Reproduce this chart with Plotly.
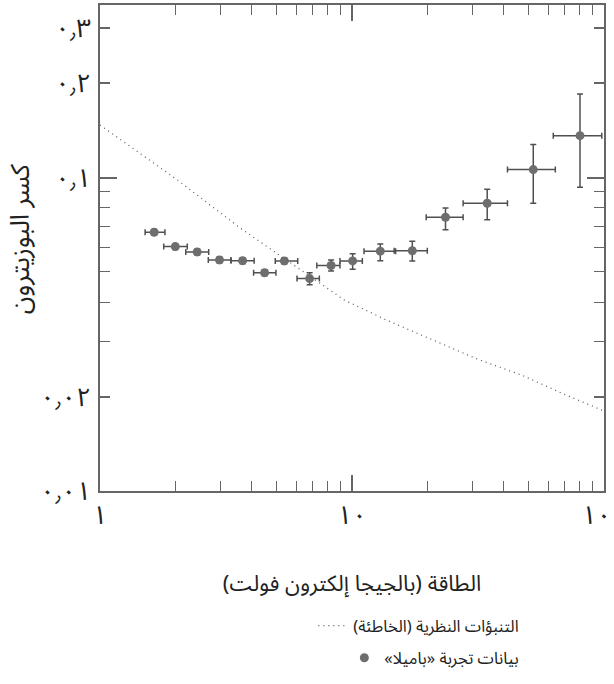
import numpy as np
import plotly.graph_objects as go

# PAMELA positron fraction data
energy = [1.64, 1.99, 2.43, 2.98, 3.68, 4.50, 5.39, 6.79, 8.26, 10.06, 12.95, 17.35, 23.5, 34.4, 52.4, 80.3]
energy_lo = [1.51, 1.79, 2.19, 2.69, 3.31, 4.07, 4.96, 6.05, 7.25, 8.96, 11.16, 14.7, 19.7, 27.6, 41.4, 62.9]
energy_hi = [1.81, 2.22, 2.70, 3.31, 4.09, 4.99, 6.09, 7.42, 8.96, 10.99, 14.9, 19.9, 27.6, 41.4, 64.1, 98.0]
fraction = [0.0669, 0.0602, 0.0579, 0.0546, 0.0543, 0.0497, 0.0542, 0.0476, 0.0524, 0.0542,
            0.0582, 0.0584, 0.0747, 0.0828, 0.106, 0.136]
fraction_lo = [0.0655, 0.0589, 0.0566, 0.0534, 0.0531, 0.0486, 0.0530, 0.0455, 0.0503, 0.0510,
               0.0543, 0.0542, 0.0681, 0.0733, 0.0828, 0.0931]
fraction_hi = [0.0683, 0.0615, 0.0592, 0.0558, 0.0555, 0.0508, 0.0554, 0.0497, 0.0546, 0.0571,
               0.0614, 0.0626, 0.0800, 0.0918, 0.1274, 0.1845]

# theoretical (wrong) prediction
theory_x = [1, 2.02, 3.59, 6, 9.3, 13.7, 20, 31.6, 47.3, 70, 100]
theory_y = [0.147, 0.0985, 0.0691, 0.052, 0.0407, 0.0351, 0.0308, 0.0263, 0.0234, 0.0203, 0.0180]

x_ticks = [1, 10, 100]
x_ticktext = ["١", "١٠", "١٠٠"]
y_major = [0.01, 0.1]
y_major_text = ["٠٫٠١", "٠٫١"]
y_other = [0.02, 0.2, 0.3]
y_other_text = ["٠٫٠٢", "٠٫٢", "٠٫٣"]

RLM = "\u200f"
name_theory = RLM + "التنبؤات النظرية (الخاطئة)" + RLM
name_data = RLM + "بيانات تجربة «باميلا»" + RLM
x_title = RLM + "الطاقة (بالجيجا إلكترون فولت)" + RLM
y_title = RLM + "كسر البوزيترون" + RLM

FONT = "Noto Sans Arabic, Noto Naskh Arabic, DejaVu Sans, sans-serif"
AXIS_COL = "#666666"

e = np.array(energy)
f = np.array(fraction)

fig = go.Figure()
fig.add_trace(go.Scatter(
    x=theory_x, y=theory_y, mode="lines", name=name_theory,
    line=dict(color="#555555", width=1.2, dash="1px,4px"),
    xaxis="x", yaxis="y2", legend="legend", showlegend=True,
))
fig.add_trace(go.Scatter(
    x=energy, y=fraction, mode="markers", name=name_data,
    marker=dict(color="#6e6e6e", size=9),
    error_x=dict(type="data", symmetric=False,
                 array=list(np.array(energy_hi) - e), arrayminus=list(e - np.array(energy_lo)),
                 color="#505050", thickness=1.5, width=3),
    error_y=dict(type="data", symmetric=False,
                 array=list(np.array(fraction_hi) - f), arrayminus=list(f - np.array(fraction_lo)),
                 color="#505050", thickness=1.5, width=3),
    legend="legend2", showlegend=True,
))

y_range = [-2, np.log10(0.355)]

fig.update_layout(
    width=614, height=684,
    margin=dict(l=100, r=10, t=5, b=193, autoexpand=False),
    showlegend=True,
    plot_bgcolor="white", paper_bgcolor="white",
    font=dict(family=FONT, size=17, color="#222222"),
    xaxis=dict(
        type="log", range=[0, 2], automargin=False,
        tickvals=x_ticks, ticktext=x_ticktext, ticklabeloverflow="allow",
        ticks="inside", ticklen=16, tickwidth=1.5, tickcolor=AXIS_COL,
        minor=dict(tickvals=[2, 3, 4, 5, 6, 7, 8, 9, 20, 30, 40, 50, 60, 70, 80, 90],
                   ticks="inside", ticklen=10, tickwidth=1.2, tickcolor=AXIS_COL, showgrid=False),
        showline=True, linecolor=AXIS_COL, linewidth=1.5, mirror="ticks",
        showgrid=False, zeroline=False,
        tickfont=dict(size=26),
        title=dict(text=x_title, font=dict(size=22), standoff=34),
    ),
    yaxis=dict(
        type="log", range=y_range, automargin=False,
        tickvals=y_major, ticktext=y_major_text, ticklabeloverflow="allow",
        ticks="inside", ticklen=17, tickwidth=1.5, tickcolor=AXIS_COL,
        minor=dict(tickvals=[0.03, 0.04, 0.05, 0.06, 0.07, 0.08, 0.09],
                   ticks="inside", ticklen=10, tickwidth=1.2, tickcolor=AXIS_COL, showgrid=False),
        showline=True, linecolor=AXIS_COL, linewidth=1.5, mirror="ticks",
        showgrid=False, zeroline=False,
        tickfont=dict(size=26), ticklabelstandoff=2,
    ),
    yaxis2=dict(
        type="log", range=y_range, overlaying="y", anchor="x", side="left", automargin=False,
        tickvals=y_other, ticktext=y_other_text, ticklabeloverflow="allow",
        ticks="inside", ticklen=10, tickwidth=1.5, tickcolor=AXIS_COL,
        showline=True, linecolor=AXIS_COL, linewidth=1.5, mirror="ticks",
        showgrid=False, zeroline=False,
        tickfont=dict(size=26), ticklabelstandoff=2,
    ),
    legend=dict(xref="container", yref="container", x=0.854, xanchor="right",
                y=0.085, yanchor="middle", font=dict(size=16.5), bgcolor="rgba(0,0,0,0)"),
    legend2=dict(xref="container", yref="container", x=0.854, xanchor="right",
                 y=0.038, yanchor="middle", font=dict(size=16.5), bgcolor="rgba(0,0,0,0)"),
)

# y axis title placed by hand so it can sit closer to the left edge
fig.add_annotation(
    text=y_title, textangle=-90, showarrow=False,
    xref="paper", yref="paper", x=0, y=0.518, xanchor="center", yanchor="middle",
    xshift=-80, font=dict(size=26),
)

fig.write_html("out.html", config={"displayModeBar": False},
               post_script="document.body.style.margin = '0';")
